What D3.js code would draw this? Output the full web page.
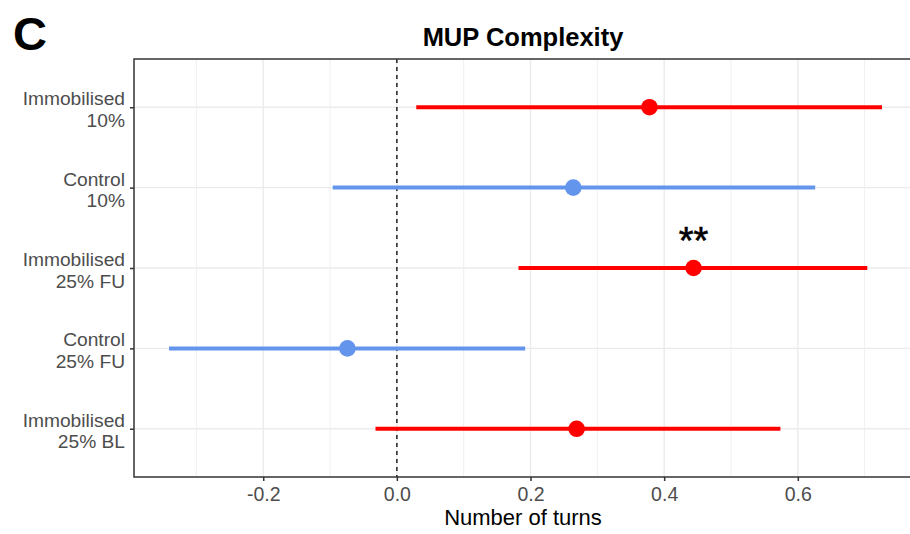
<!DOCTYPE html>
<html>
<head>
<meta charset="utf-8">
<script src="https://cdn.jsdelivr.net/npm/d3@7"></script>
<style>
  html, body { margin: 0; padding: 0; background: #fff; }
  svg { display: block; font-family: "Liberation Sans", Arial, sans-serif; }
</style>
</head>
<body>
<svg id="chart" width="910" height="534"></svg>
<script>
// Groups, top to bottom, as two-line labels
const groups = [
  ["Immobilised", "10%"],
  ["Control", "10%"],
  ["Immobilised", "25% FU"],
  ["Control", "25% FU"],
  ["Immobilised", "25% BL"]
];
const groupType = ["Immobilised", "Control", "Immobilised", "Control", "Immobilised"];
// Estimate and confidence interval (number of turns)
const estimate = [0.378, 0.264, 0.444, -0.074, 0.269];
const lower    = [0.029, -0.096, 0.182, -0.341, -0.032];
const upper    = [0.726, 0.626, 0.704, 0.192, 0.574];
const significance = ["", "", "**", "", ""];
const xTicks = [-0.2, 0.0, 0.2, 0.4, 0.6];
const xMinor = [-0.3, -0.1, 0.1, 0.3, 0.5, 0.7];

const colour = { Immobilised: "#ff0000", Control: "#6495ed" };

const svg = d3.select("#chart");
const panel = { left: 134, top: 59, right: 912, bottom: 477 };

const x = d3.scaleLinear()
  .domain([-0.3934, 0.7709])
  .range([panel.left, panel.right]);

// discrete axis with 0.6 expansion each side
const y = d3.scaleLinear()
  .domain([0.4, groups.length + 0.6])
  .range([panel.top, panel.bottom]);
const yPos = i => y(i + 1);

// panel grid
const grid = svg.append("g");
grid.selectAll("line.minor").data(xMinor).join("line")
  .attr("x1", d => x(d)).attr("x2", d => x(d))
  .attr("y1", panel.top).attr("y2", panel.bottom)
  .attr("stroke", "#ebebeb").attr("stroke-width", 0.8);
grid.selectAll("line.major").data(xTicks).join("line")
  .attr("x1", d => x(d)).attr("x2", d => x(d))
  .attr("y1", panel.top).attr("y2", panel.bottom)
  .attr("stroke", "#ebebeb").attr("stroke-width", 1.4);
grid.selectAll("line.hmajor").data(groups).join("line")
  .attr("x1", panel.left).attr("x2", panel.right)
  .attr("y1", (d, i) => yPos(i)).attr("y2", (d, i) => yPos(i))
  .attr("stroke", "#ebebeb").attr("stroke-width", 1.4);

// reference line at zero
svg.append("line")
  .attr("x1", x(0)).attr("x2", x(0))
  .attr("y1", panel.top).attr("y2", panel.bottom)
  .attr("stroke", "#000").attr("stroke-width", 1.3)
  .attr("stroke-dasharray", "4,4");

// confidence intervals and estimates
const marks = svg.append("g");
marks.selectAll("line.ci").data(estimate).join("line")
  .attr("x1", (d, i) => x(lower[i])).attr("x2", (d, i) => x(upper[i]))
  .attr("y1", (d, i) => yPos(i)).attr("y2", (d, i) => yPos(i))
  .attr("stroke", (d, i) => colour[groupType[i]])
  .attr("stroke-width", 4);
marks.selectAll("circle").data(estimate).join("circle")
  .attr("cx", d => x(d)).attr("cy", (d, i) => yPos(i))
  .attr("r", 8.3)
  .attr("fill", (d, i) => colour[groupType[i]]);

// significance stars
svg.selectAll("text.sig").data(significance).join("text")
  .attr("x", (d, i) => x(estimate[i]))
  .attr("y", (d, i) => yPos(i) - 14)
  .attr("text-anchor", "middle")
  .attr("font-size", 38)
  .attr("fill", "#000")
  .attr("stroke", "#000").attr("stroke-width", 0.6)
  .text(d => d);

// panel border
svg.append("rect")
  .attr("x", panel.left).attr("y", panel.top)
  .attr("width", panel.right - panel.left).attr("height", panel.bottom - panel.top)
  .attr("fill", "none").attr("stroke", "#333").attr("stroke-width", 1.5);

// x axis
const xAxis = svg.append("g")
  .attr("transform", `translate(0,${panel.bottom})`)
  .call(d3.axisBottom(x).tickValues(xTicks).tickFormat(d3.format(".1f")).tickSize(4).tickPadding(6));
xAxis.select(".domain").remove();
xAxis.selectAll(".tick line").attr("stroke", "#333").attr("stroke-width", 1.5);
xAxis.selectAll(".tick text")
  .attr("font-size", 19.5).attr("fill", "#4d4d4d")
  .attr("font-family", "Liberation Sans, Arial, sans-serif")
  .text(d => d3.format(".1f")(d).replace("−", "-"));

// y axis with two-line labels
const yAxis = svg.append("g")
  .attr("transform", `translate(${panel.left},0)`)
  .call(d3.axisLeft(y).tickValues(groups.map((g, i) => i + 1)).tickSize(4).tickFormat(""));
yAxis.select(".domain").remove();
yAxis.selectAll(".tick line").attr("stroke", "#333").attr("stroke-width", 1.5);
const yLab = svg.append("g").attr("font-size", 19.2).attr("fill", "#4d4d4d").attr("text-anchor", "end");
groups.forEach((g, i) => {
  const t = yLab.append("text").attr("x", 125).attr("y", yPos(i) - 2);
  t.append("tspan").attr("x", 125).text(g[0]);
  t.append("tspan").attr("x", 125).attr("dy", 21.5).text(g[1]);
});

// titles
svg.append("text")
  .attr("x", 523).attr("y", 46)
  .attr("text-anchor", "middle")
  .attr("font-size", 25.5).attr("font-weight", "bold").attr("fill", "#000")
  .text("MUP Complexity");
svg.append("text")
  .attr("x", 523).attr("y", 525)
  .attr("text-anchor", "middle")
  .attr("font-size", 22).attr("fill", "#000")
  .text("Number of turns");
svg.append("text")
  .attr("x", 13).attr("y", 50)
  .attr("font-size", 47).attr("font-weight", "bold").attr("fill", "#000")
  .text("C");
</script>
</body>
</html>
